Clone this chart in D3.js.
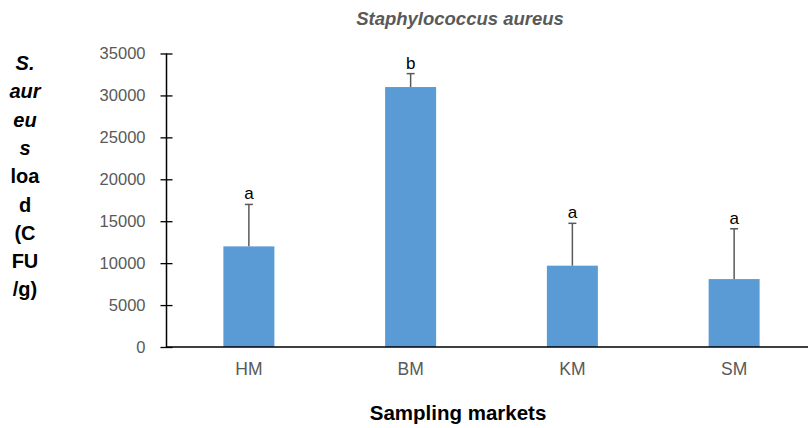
<!DOCTYPE html>
<html><head><meta charset="utf-8">
<script src="https://cdn.jsdelivr.net/npm/d3@7"></script>
<style>body{margin:0;background:#fff}svg{display:block}text{font-family:"Liberation Sans",Arial,sans-serif}</style>
</head><body>
<svg id="c" width="808" height="428"></svg>
<script>
const categories = ["HM","BM","KM","SM"];
const means = [12000, 31000, 9700, 8100];
const errors = [5000, 1600, 5050, 6000];
const letters = ["a","b","a","a"];
const yTicks = [0,5000,10000,15000,20000,25000,30000,35000];
const yLabelLines = [["S.",true],["aur",true],["eu",true],["s",true],["loa",false],["d",false],["(C",false],["FU",false],["/g)",false]];

const svg = d3.select("#c");
const x = d3.scaleBand().domain(categories).range([168, 815]);
const y = d3.scaleLinear().domain([0,35000]).range([347, 53.5]);
const barW = 51;

// bars
svg.selectAll("rect.bar").data(categories).join("rect")
  .attr("x", d => x(d) + x.bandwidth()/2 - barW/2)
  .attr("y", (d,i) => y(means[i]))
  .attr("width", barW)
  .attr("height", (d,i) => y(0) - y(means[i]))
  .attr("fill", "#5B9BD5");

// error bars
const eg = svg.append("g").attr("stroke", "#595959").attr("stroke-width", 1.5);
categories.forEach((c,i) => {
  const cx = x(c) + x.bandwidth()/2;
  eg.append("line").attr("x1",cx).attr("x2",cx).attr("y1",y(means[i])).attr("y2",y(means[i]+errors[i]));
  eg.append("line").attr("x1",cx-4).attr("x2",cx+4).attr("y1",y(means[i]+errors[i])).attr("y2",y(means[i]+errors[i]));
  svg.append("text").attr("x",cx).attr("y",y(means[i]+errors[i]) - 5)
    .attr("text-anchor","middle").attr("font-size",17).attr("fill","#000").text(letters[i]);
});

// y axis
const yAxis = svg.append("g").attr("transform","translate(166.5,0)")
  .call(d3.axisLeft(y).tickValues(yTicks).tickSize(0).tickPadding(0).tickFormat(d3.format("d")));
yAxis.select(".domain").remove();
yAxis.selectAll(".tick text").attr("x",-21).attr("font-size",16.5).attr("fill","#595959").attr("font-family","Liberation Sans, Arial, sans-serif");
yAxis.selectAll(".tick").append("line").attr("x1",-6).attr("x2",6).attr("stroke","#000").attr("stroke-width",1.3);
svg.append("line").attr("x1",166.5).attr("x2",166.5).attr("y1",y(35000)).attr("y2",y(0)).attr("stroke","#000").attr("stroke-width",1.5);

// x axis
const xAxis = svg.append("g").attr("transform",`translate(0,${y(0)})`)
  .call(d3.axisBottom(x).tickSize(0).tickPadding(0));
xAxis.select(".domain").remove();
xAxis.selectAll(".tick text").attr("y",28).attr("dy",0).attr("font-size",17.5).attr("fill","#595959").attr("font-family","Liberation Sans, Arial, sans-serif");
svg.append("line").attr("x1",166).attr("x2",808).attr("y1",y(0)).attr("y2",y(0)).attr("stroke","#000").attr("stroke-width",1.5);

// title
svg.append("text").attr("x",460).attr("y",25).attr("text-anchor","middle")
  .attr("font-size",18.5).attr("font-weight","bold").attr("font-style","italic").attr("fill","#595959")
  .text("Staphylococcus aureus");

// x label
svg.append("text").attr("x",458).attr("y",420).attr("text-anchor","middle")
  .attr("font-size",20.5).attr("font-weight","bold").attr("fill","#000").text("Sampling markets");

// y label
const yl = svg.append("text").attr("text-anchor","middle").attr("font-size",20).attr("font-weight","bold").attr("fill","#000");
yLabelLines.forEach((l,i) => {
  yl.append("tspan").attr("x",25).attr("y",70 + i*28.3).attr("font-style", l[1] ? "italic" : "normal").text(l[0]);
});
</script>
</body></html>
